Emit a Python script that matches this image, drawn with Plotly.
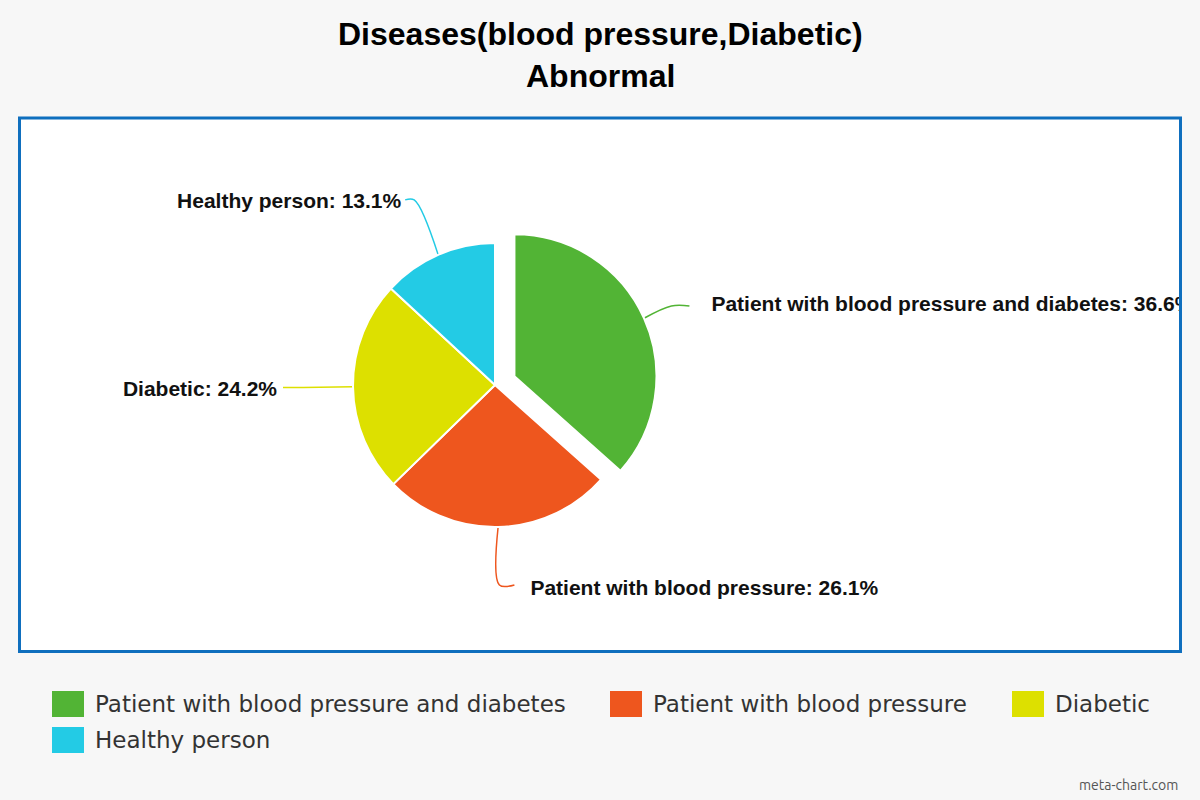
import math
import plotly.graph_objects as go

# ---------------- data ----------------
labels = ["Patient with blood pressure and diabetes", "Patient with blood pressure", "Diabetic", "Healthy person"]
values = [36.6, 26.1, 24.2, 13.1]
colors = ["#52b435", "#ee561e", "#dde000", "#23cbe5"]
pulls = [0.15, 0, 0, 0]

# ---------------- layout constants (pixels) ----------------
W, H = 1200, 800
CX, CY, R = 495, 385, 142          # pie centre & radius
BOX = (21, 119, 1179, 651)         # inner plotting box
# leader styling per slice: radial extension, horizontal tail, label gap, label dy
lead_ext = [30, 58, 50, 60]
lead_tail = [18, 15, 20, 9]
lab_gap = [22, 16, 6, 4]
lab_dy = [0, 5, 3, 3]

fig = go.Figure()

maxpull = max(pulls)
half = R * (1 + maxpull)
fig.add_trace(go.Pie(
    labels=labels, values=values, sort=False, direction="clockwise", rotation=0,
    pull=pulls, marker=dict(colors=colors, line=dict(color="white", width=2)),
    textinfo="none", hoverinfo="label+percent", showlegend=False,
    domain=dict(x=[(CX - half) / W, (CX + half) / W], y=[1 - (CY + half) / H, 1 - (CY - half) / H]),
))

total = sum(values)
cum = 0
for i, (lab, v, col) in enumerate(zip(labels, values, colors)):
    mid = (cum + v / 2) / total * 2 * math.pi
    cum += v
    dx, dy = math.sin(mid), -math.cos(mid)
    cx = CX + pulls[i] * R * dx
    cy = CY + pulls[i] * R * dy
    sx, sy = cx + R * dx, cy + R * dy
    kx, ky = cx + (R + lead_ext[i]) * dx, cy + (R + lead_ext[i]) * dy
    side = 1 if dx >= 0 else -1
    ex, ey = kx + side * lead_tail[i], ky
    fig.add_trace(go.Scatter(
        x=[sx, kx, ex], y=[sy, ky, ey], mode="lines",
        line=dict(color=col, width=1.5, shape="spline", smoothing=1.0),
        hoverinfo="skip", showlegend=False,
    ))
    pct = f"{v / total * 100:.1f}%"
    fig.add_trace(go.Scatter(
        x=[ex + side * lab_gap[i]], y=[ey + lab_dy[i]], mode="text",
        text=[f"<b>{lab}: {pct}</b>"],
        textposition="middle right" if side > 0 else "middle left",
        textfont=dict(family="Liberation Sans, Arial, sans-serif", size=21, color="#111111"),
        cliponaxis=True, hoverinfo="skip", showlegend=False,
    ))

# ---------------- titles ----------------
annotations = [
    dict(text="<b>Diseases(blood pressure,Diabetic)</b>", x=0.5, y=1 - 34 / H, xref="paper", yref="paper",
         showarrow=False, xanchor="center", yanchor="middle",
         font=dict(family="Liberation Sans, Arial, sans-serif", size=32, color="#000000")),
    dict(text="<b>Abnormal</b>", x=0.5, y=1 - 76 / H, xref="paper", yref="paper",
         showarrow=False, xanchor="center", yanchor="middle",
         font=dict(family="Liberation Sans, Arial, sans-serif", size=32, color="#000000")),
    dict(text="meta-chart.com", x=1180 / W, y=1 - 785 / H, xref="paper", yref="paper",
         showarrow=False, xanchor="right", yanchor="middle",
         font=dict(family="Ubuntu, Open Sans, sans-serif", size=14, color="#555555")),
]

shapes = [
    dict(type="rect", xref="paper", yref="paper", x0=19.5 / W, x1=1180.5 / W, y0=1 - 651.5 / H, y1=1 - 118 / H,
         line=dict(color="#0f6fbe", width=3), fillcolor="rgba(0,0,0,0)", layer="above"),
]

# ---------------- manual legend ----------------
leg_pos = [(52, 704), (610, 704), (1012, 704), (52, 740)]
for (lx, ly), lab, col in zip(leg_pos, labels, colors):
    shapes.append(dict(type="rect", xref="paper", yref="paper",
                       x0=lx / W, x1=(lx + 32) / W, y0=1 - (ly + 13) / H, y1=1 - (ly - 13) / H,
                       line=dict(width=0), fillcolor=col))
    annotations.append(dict(text=lab, x=(lx + 41) / W, y=1 - ly / H, xref="paper", yref="paper",
                            showarrow=False, xanchor="left", yanchor="middle",
                            font=dict(family="DejaVu Sans, Verdana, sans-serif", size=23, color="#333333")))

fig.update_layout(
    width=W, height=H, margin=dict(l=0, r=0, t=0, b=0),
    paper_bgcolor="#f7f7f7", plot_bgcolor="white",
    xaxis=dict(domain=[BOX[0] / W, BOX[2] / W], range=[BOX[0], BOX[2]], visible=False, fixedrange=True),
    yaxis=dict(domain=[1 - BOX[3] / H, 1 - BOX[1] / H], range=[BOX[3], BOX[1]], visible=False, fixedrange=True),
    annotations=annotations, shapes=shapes, showlegend=False,
)

fig.write_html("out.html", config={"displayModeBar": False},
               post_script="document.body.style.margin='0';document.body.style.overflow='hidden';")
